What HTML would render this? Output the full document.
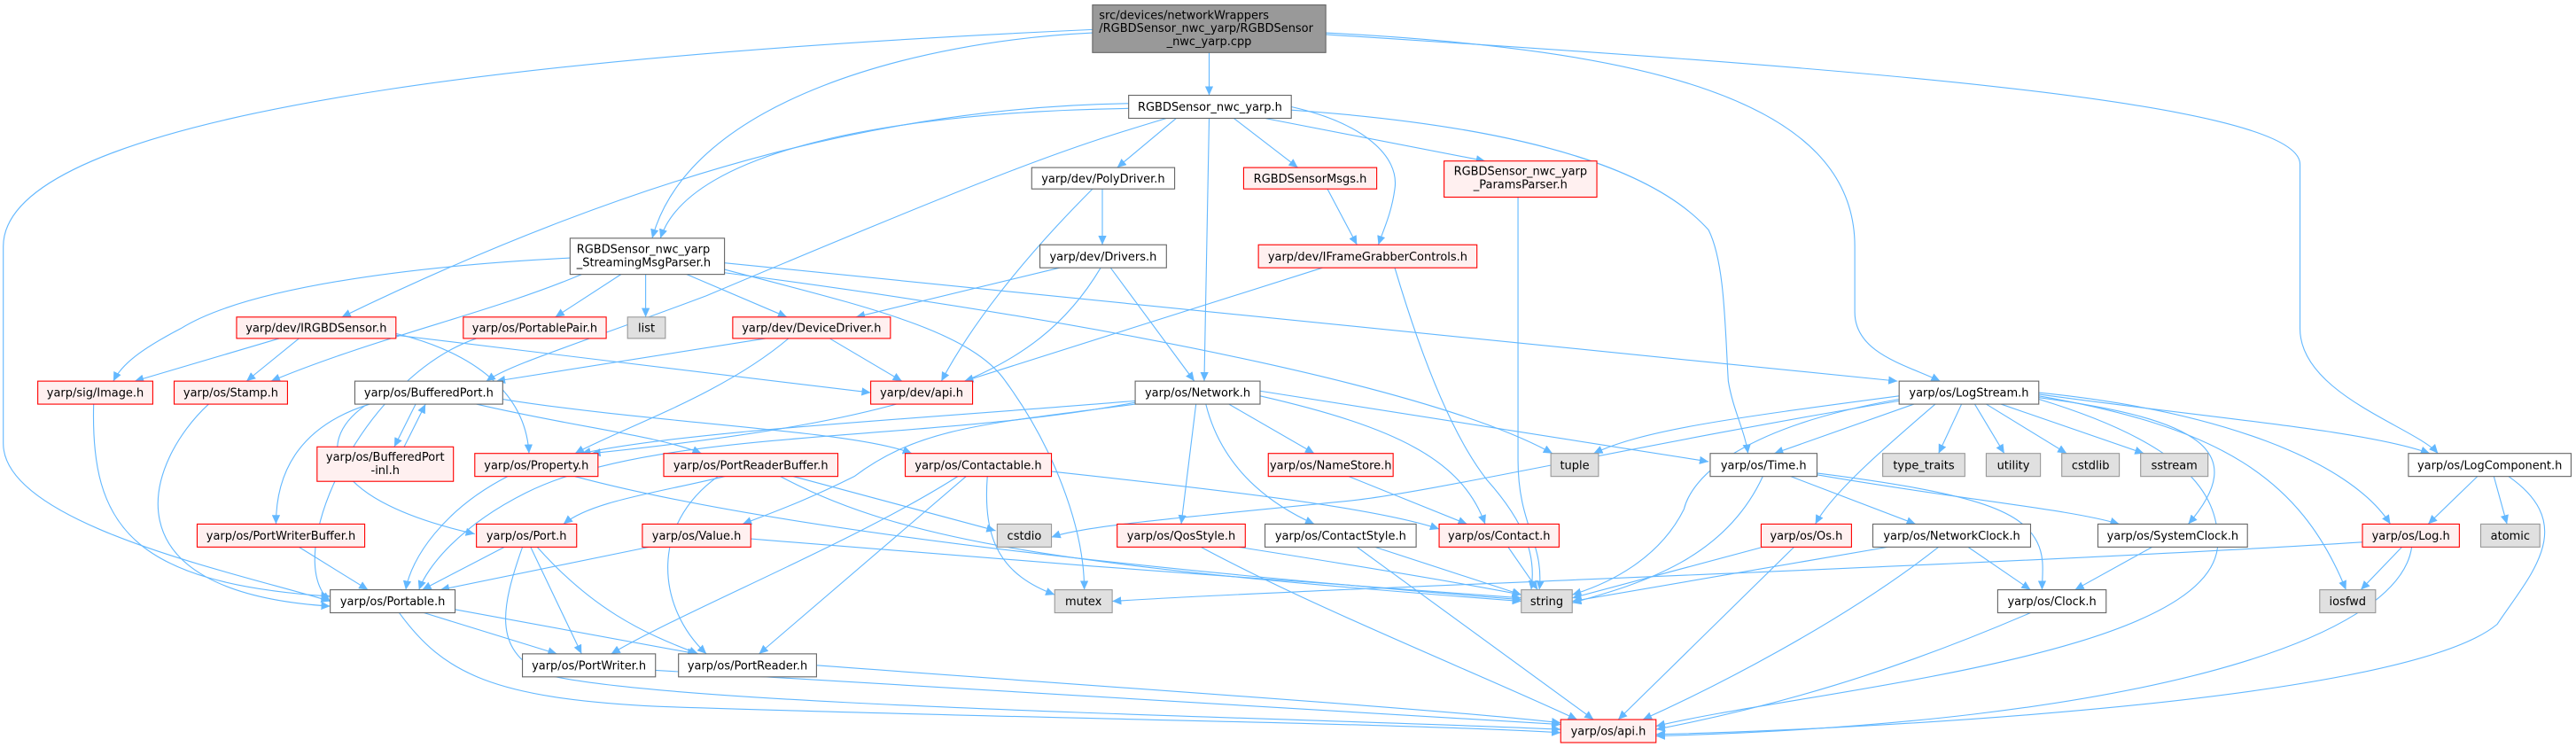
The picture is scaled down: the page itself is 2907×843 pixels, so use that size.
<!DOCTYPE html>
<html><head><meta charset="utf-8"><style>
html,body{margin:0;padding:0;background:#fff;}
svg{display:block;}
text{font-family:"DejaVu Sans","Liberation Sans",sans-serif;font-size:7px;fill:#000;}
.e{fill:none;stroke:#63b8ff;stroke-width:0.6;}
.w{fill:#fff;stroke:#666;stroke-width:0.6;}
.r{fill:#fff0f0;stroke:#ff0000;stroke-width:0.6;}
.g{fill:#e0e0e0;stroke:#999;stroke-width:0.6;}
.k{fill:#999;stroke:#666;stroke-width:0.6;}
</style></head><body>
<svg width="2907" height="843" viewBox="0 0 1568 454.7" preserveAspectRatio="none" xmlns="http://www.w3.org/2000/svg">
<defs><marker id="a" markerUnits="userSpaceOnUse" markerWidth="6" markerHeight="5" refX="5.5" refY="2.5" orient="auto"><path d="M0,0 L5.5,2.5 L0,5 z" fill="#63b8ff"/></marker></defs>
<g class="edges" marker-end="url(#a)">
<path class="e" marker-end="url(#a)" d="M736 32 L736 58"/>
<path class="e" marker-end="url(#a)" d="M665 20 C560 25 420 60 397 145"/>
<path class="e" marker-end="url(#a)" d="M665 18 C400 30 2 60 2 150 L2 270 C2 320 150 350 201 366"/>
<path class="e" marker-end="url(#a)" d="M807 20 C1000 30 1129 60 1129 150 L1129 190 C1129 215 1160 222 1181 232"/>
<path class="e" marker-end="url(#a)" d="M807 21 C1100 40 1400 60 1400 100 L1400 200 C1400 240 1470 260 1484 276"/>
<path class="e" marker-end="url(#a)" d="M687 66 C550 68 420 90 402 145"/>
<path class="e" marker-end="url(#a)" d="M687 63 C550 65 400 100 208 193"/>
<path class="e" marker-end="url(#a)" d="M710 72 C650 90 620 100 430 180 C350 210 310 222 296 232"/>
<path class="e" marker-end="url(#a)" d="M716 72 L680 102"/>
<path class="e" marker-end="url(#a)" d="M751 72 L790 102"/>
<path class="e" marker-end="url(#a)" d="M736 72 L733 232"/>
<path class="e" marker-end="url(#a)" d="M770 72 L904 98"/>
<path class="e" marker-end="url(#a)" d="M786 65 C830 75 852 95 849 115 C847 130 842 140 839 149"/>
<path class="e" marker-end="url(#a)" d="M786 67 C900 75 1000 95 1040 140 C1050 160 1050 200 1052 232 C1055 250 1062 262 1064 276"/>
<path class="e" marker-end="url(#a)" d="M671 115 L671 149"/>
<path class="e" marker-end="url(#a)" d="M665 115 C620 160 590 200 573 232"/>
<path class="e" marker-end="url(#a)" d="M808 115 L826 149"/>
<path class="e" marker-end="url(#a)" d="M924 120 L924 280 C924 320 940 330 937 359"/>
<path class="e" marker-end="url(#a)" d="M805 163 L587 232"/>
<path class="e" marker-end="url(#a)" d="M849 163 C860 200 880 260 905 292 C930 320 935 340 932 359"/>
<path class="e" marker-end="url(#a)" d="M347 157 C250 162 150 175 110 200 C85 213 74 222 69 232"/>
<path class="e" marker-end="url(#a)" d="M354 167 C300 190 230 205 165 232"/>
<path class="e" marker-end="url(#a)" d="M378 167 L338 193"/>
<path class="e" marker-end="url(#a)" d="M393 167 L393 193"/>
<path class="e" marker-end="url(#a)" d="M418 167 L479 193"/>
<path class="e" marker-end="url(#a)" d="M441 160 L1155 232"/>
<path class="e" marker-end="url(#a)" d="M441 164 C520 185 590 200 612 232 C640 270 660 320 660 359"/>
<path class="e" marker-end="url(#a)" d="M441 166 C700 200 880 240 945 276"/>
<path class="e" marker-end="url(#a)" d="M645 163 L521 193"/>
<path class="e" marker-end="url(#a)" d="M676 163 L727 232"/>
<path class="e" marker-end="url(#a)" d="M670 163 C630 230 560 255 360 276"/>
<path class="e" marker-end="url(#a)" d="M170 206 L82 232"/>
<path class="e" marker-end="url(#a)" d="M182 206 L150 232"/>
<path class="e" marker-end="url(#a)" d="M241 203 C290 215 320 240 322 276"/>
<path class="e" marker-end="url(#a)" d="M241 204 L530 239"/>
<path class="e" marker-end="url(#a)" d="M290 206 C220 230 170 340 201 366"/>
<path class="e" marker-end="url(#a)" d="M505 206 L549 232"/>
<path class="e" marker-end="url(#a)" d="M480 206 C440 240 380 260 350 276"/>
<path class="e" marker-end="url(#a)" d="M466 206 L302 232"/>
<path class="e" marker-end="url(#a)" d="M57 246 C55 320 80 355 201 363"/>
<path class="e" marker-end="url(#a)" d="M127 246 C90 280 60 360 201 369"/>
<path class="e" marker-end="url(#a)" d="M253 246 L240 272"/>
<path class="e" marker-end="url(#a)" d="M246 272 L259 246"/>
<path class="e" marker-end="url(#a)" d="M225 246 C180 260 168 290 168 319"/>
<path class="e" marker-end="url(#a)" d="M222 247 C190 270 200 305 289 325"/>
<path class="e" marker-end="url(#a)" d="M290 246 C350 260 400 265 427 276"/>
<path class="e" marker-end="url(#a)" d="M306 243 C400 258 520 262 555 276"/>
<path class="e" marker-end="url(#a)" d="M691 244 C560 255 420 262 354 276"/>
<path class="e" marker-end="url(#a)" d="M691 245 C560 270 400 260 320 300 C280 320 260 345 255 359"/>
<path class="e" marker-end="url(#a)" d="M691 246 C600 258 560 260 520 290 C490 305 470 312 452 319"/>
<path class="e" marker-end="url(#a)" d="M748 246 L800 276"/>
<path class="e" marker-end="url(#a)" d="M728 246 L719 319"/>
<path class="e" marker-end="url(#a)" d="M734 246 C745 290 780 310 800 319"/>
<path class="e" marker-end="url(#a)" d="M767 241 C850 260 890 280 904 319"/>
<path class="e" marker-end="url(#a)" d="M767 238 L1040 281"/>
<path class="e" marker-end="url(#a)" d="M1156 241 C1050 255 1000 262 970 276"/>
<path class="e" marker-end="url(#a)" d="M1165 246 L1080 276"/>
<path class="e" marker-end="url(#a)" d="M1156 243 C1060 260 1030 290 1025 310 C1010 340 980 355 957 362"/>
<path class="e" marker-end="url(#a)" d="M1156 244 C1000 270 870 300 820 305 C720 315 660 320 640 327"/>
<path class="e" marker-end="url(#a)" d="M1178 246 C1150 270 1115 300 1105 319"/>
<path class="e" marker-end="url(#a)" d="M1194 246 L1180 276"/>
<path class="e" marker-end="url(#a)" d="M1202 246 L1220 276"/>
<path class="e" marker-end="url(#a)" d="M1209 246 L1258 276"/>
<path class="e" marker-end="url(#a)" d="M1218 246 L1305 276"/>
<path class="e" marker-end="url(#a)" d="M1241 240 C1350 255 1440 262 1479 276"/>
<path class="e" marker-end="url(#a)" d="M1241 239 C1350 250 1430 280 1455 319"/>
<path class="e" marker-end="url(#a)" d="M1241 242 C1340 255 1370 275 1332 319"/>
<path class="e" marker-end="url(#a)" d="M1241 241 C1350 260 1400 290 1428 359"/>
<path class="e" marker-end="url(#a)" d="M1241 243 C1330 270 1350 300 1350 330 C1350 400 1100 420 1008 442"/>
<path class="e" marker-end="url(#a)" d="M1438 330 C1200 345 800 358 677 366"/>
<path class="e" marker-end="url(#a)" d="M1073 290 C1050 340 1000 355 957 367"/>
<path class="e" marker-end="url(#a)" d="M1090 290 L1166 319"/>
<path class="e" marker-end="url(#a)" d="M1106 289 C1200 305 1260 310 1290 319"/>
<path class="e" marker-end="url(#a)" d="M1106 288 C1200 300 1230 310 1240 330 C1245 340 1243 350 1243 359"/>
<path class="e" marker-end="url(#a)" d="M821 290 L893 319"/>
<path class="e" marker-end="url(#a)" d="M583 290 C520 330 420 370 372 398"/>
<path class="e" marker-end="url(#a)" d="M588 290 L462 398"/>
<path class="e" marker-end="url(#a)" d="M601 290 C598 330 610 350 642 362"/>
<path class="e" marker-end="url(#a)" d="M640 287 C760 300 840 310 876 322"/>
<path class="e" marker-end="url(#a)" d="M441 290 C400 300 360 305 343 319"/>
<path class="e" marker-end="url(#a)" d="M483 290 L606 323"/>
<path class="e" marker-end="url(#a)" d="M475 290 C550 330 650 345 926 366"/>
<path class="e" marker-end="url(#a)" d="M437 290 C395 320 400 370 430 398"/>
<path class="e" marker-end="url(#a)" d="M309 290 C270 310 250 340 247 359"/>
<path class="e" marker-end="url(#a)" d="M350 290 C500 330 800 355 926 365"/>
<path class="e" marker-end="url(#a)" d="M182 333 L224 359"/>
<path class="e" marker-end="url(#a)" d="M307 333 L257 359"/>
<path class="e" marker-end="url(#a)" d="M323 333 L354 398"/>
<path class="e" marker-end="url(#a)" d="M327 333 C360 370 390 385 425 398"/>
<path class="e" marker-end="url(#a)" d="M318 333 C305 370 300 395 330 410 C400 430 800 437 950 444"/>
<path class="e" marker-end="url(#a)" d="M395 333 L268 359"/>
<path class="e" marker-end="url(#a)" d="M457 328 C600 340 800 355 926 364"/>
<path class="e" marker-end="url(#a)" d="M754 333 C830 345 890 355 926 362"/>
<path class="e" marker-end="url(#a)" d="M731 333 C800 370 900 410 960 438"/>
<path class="e" marker-end="url(#a)" d="M837 333 L926 362"/>
<path class="e" marker-end="url(#a)" d="M826 333 L970 438"/>
<path class="e" marker-end="url(#a)" d="M918 333 L936 359"/>
<path class="e" marker-end="url(#a)" d="M1073 333 L957 364"/>
<path class="e" marker-end="url(#a)" d="M1092 333 L985 438"/>
<path class="e" marker-end="url(#a)" d="M1149 333 L957 366"/>
<path class="e" marker-end="url(#a)" d="M1198 333 L1236 359"/>
<path class="e" marker-end="url(#a)" d="M1180 333 C1120 380 1040 420 1000 438"/>
<path class="e" marker-end="url(#a)" d="M1310 333 L1263 359"/>
<path class="e" marker-end="url(#a)" d="M1236 373 C1150 410 1080 430 1008 444"/>
<path class="e" marker-end="url(#a)" d="M1508 290 L1478 319"/>
<path class="e" marker-end="url(#a)" d="M1518 290 L1526 319"/>
<path class="e" marker-end="url(#a)" d="M1527 290 C1570 320 1540 350 1520 380 C1460 430 1100 445 1008 447"/>
<path class="e" marker-end="url(#a)" d="M1462 333 L1437 359"/>
<path class="e" marker-end="url(#a)" d="M1468 333 C1460 390 1300 440 1008 448"/>
<path class="e" marker-end="url(#a)" d="M258 373 L339 398"/>
<path class="e" marker-end="url(#a)" d="M277 371 L424 398"/>
<path class="e" marker-end="url(#a)" d="M243 373 C270 410 300 425 400 430 C600 437 850 440 950 446"/>
<path class="e" marker-end="url(#a)" d="M399 408 C600 420 850 435 950 441"/>
<path class="e" marker-end="url(#a)" d="M497 405 C700 420 880 432 950 440"/>
</g>
<g>
<rect class="k" x="665" y="3" width="142" height="29"/>
<text x="669" y="11.5">src/devices/networkWrappers</text>
<text x="669" y="19.5">/RGBDSensor_nwc_yarp/RGBDSensor</text>
<text x="736" y="27.5" text-anchor="middle">_nwc_yarp.cpp</text>

<rect class="w" x="687" y="58" width="99" height="14"/><text x="736.5" y="67.5" text-anchor="middle">RGBDSensor_nwc_yarp.h</text>
<rect class="w" x="628" y="102" width="87" height="13"/><text x="671.5" y="111" text-anchor="middle">yarp/dev/PolyDriver.h</text>
<rect class="r" x="757" y="102" width="81" height="13"/><text x="797.5" y="111" text-anchor="middle">RGBDSensorMsgs.h</text>
<rect class="r" x="879" y="98" width="93" height="22"/><text x="925.5" y="106.5" text-anchor="middle">RGBDSensor_nwc_yarp</text><text x="925.5" y="114.5" text-anchor="middle">_ParamsParser.h</text>
<rect class="w" x="347" y="145" width="94" height="22"/><text x="351" y="154">RGBDSensor_nwc_yarp</text><text x="351" y="162">_StreamingMsgParser.h</text>
<rect class="w" x="633" y="149" width="77" height="14"/><text x="671.5" y="158.5" text-anchor="middle">yarp/dev/Drivers.h</text>
<rect class="r" x="766" y="149" width="133" height="14"/><text x="832.5" y="158.5" text-anchor="middle">yarp/dev/IFrameGrabberControls.h</text>
<rect class="r" x="144" y="193" width="97" height="13"/><text x="192.5" y="202" text-anchor="middle">yarp/dev/IRGBDSensor.h</text>
<rect class="r" x="282" y="193" width="87" height="13"/><text x="325.5" y="202" text-anchor="middle">yarp/os/PortablePair.h</text>
<rect class="g" x="382" y="193" width="23" height="13"/><text x="393.5" y="202" text-anchor="middle">list</text>
<rect class="r" x="446" y="193" width="96" height="13"/><text x="494" y="202" text-anchor="middle">yarp/dev/DeviceDriver.h</text>
<rect class="r" x="23" y="232" width="70" height="14"/><text x="58" y="241.5" text-anchor="middle">yarp/sig/Image.h</text>
<rect class="r" x="106" y="232" width="69" height="14"/><text x="140.5" y="241.5" text-anchor="middle">yarp/os/Stamp.h</text>
<rect class="w" x="216" y="232" width="90" height="14"/><text x="261" y="241.5" text-anchor="middle">yarp/os/BufferedPort.h</text>
<rect class="r" x="530" y="232" width="62" height="14"/><text x="561" y="241.5" text-anchor="middle">yarp/dev/api.h</text>
<rect class="w" x="691" y="232" width="76" height="14"/><text x="729" y="241.5" text-anchor="middle">yarp/os/Network.h</text>
<rect class="w" x="1156" y="232" width="85" height="14"/><text x="1198.5" y="241.5" text-anchor="middle">yarp/os/LogStream.h</text>
<rect class="r" x="193" y="272" width="83" height="21"/><text x="234.5" y="280.5" text-anchor="middle">yarp/os/BufferedPort</text><text x="234.5" y="288.5" text-anchor="middle">-inl.h</text>
<rect class="r" x="289" y="276" width="75" height="14"/><text x="326.5" y="285.5" text-anchor="middle">yarp/os/Property.h</text>
<rect class="r" x="404" y="276" width="106" height="14"/><text x="457" y="285.5" text-anchor="middle">yarp/os/PortReaderBuffer.h</text>
<rect class="r" x="551" y="276" width="89" height="14"/><text x="595.5" y="285.5" text-anchor="middle">yarp/os/Contactable.h</text>
<rect class="r" x="772" y="276" width="76" height="14"/><text x="810" y="285.5" text-anchor="middle">yarp/os/NameStore.h</text>
<rect class="g" x="944" y="276" width="29" height="14"/><text x="958.5" y="285.5" text-anchor="middle">tuple</text>
<rect class="w" x="1041" y="276" width="65" height="14"/><text x="1073.5" y="285.5" text-anchor="middle">yarp/os/Time.h</text>
<rect class="g" x="1146" y="276" width="50" height="14"/><text x="1171" y="285.5" text-anchor="middle">type_traits</text>
<rect class="g" x="1209" y="276" width="33" height="14"/><text x="1225.5" y="285.5" text-anchor="middle">utility</text>
<rect class="g" x="1255" y="276" width="35" height="14"/><text x="1272.5" y="285.5" text-anchor="middle">cstdlib</text>
<rect class="g" x="1303" y="276" width="41" height="14"/><text x="1323.5" y="285.5" text-anchor="middle">sstream</text>
<rect class="w" x="1466" y="276" width="99" height="14"/><text x="1515.5" y="285.5" text-anchor="middle">yarp/os/LogComponent.h</text>
<rect class="r" x="120" y="319" width="102" height="14"/><text x="171" y="328.5" text-anchor="middle">yarp/os/PortWriterBuffer.h</text>
<rect class="r" x="290" y="319" width="61" height="14"/><text x="320.5" y="328.5" text-anchor="middle">yarp/os/Port.h</text>
<rect class="r" x="391" y="319" width="66" height="14"/><text x="424" y="328.5" text-anchor="middle">yarp/os/Value.h</text>
<rect class="g" x="607" y="319" width="33" height="14"/><text x="623.5" y="328.5" text-anchor="middle">cstdio</text>
<rect class="r" x="680" y="319" width="78" height="14"/><text x="719" y="328.5" text-anchor="middle">yarp/os/QosStyle.h</text>
<rect class="w" x="770" y="319" width="92" height="14"/><text x="816" y="328.5" text-anchor="middle">yarp/os/ContactStyle.h</text>
<rect class="r" x="876" y="319" width="73" height="14"/><text x="912.5" y="328.5" text-anchor="middle">yarp/os/Contact.h</text>
<rect class="r" x="1072" y="319" width="55" height="14"/><text x="1099.5" y="328.5" text-anchor="middle">yarp/os/Os.h</text>
<rect class="w" x="1140" y="319" width="96" height="14"/><text x="1188" y="328.5" text-anchor="middle">yarp/os/NetworkClock.h</text>
<rect class="w" x="1277" y="319" width="91" height="14"/><text x="1322.5" y="328.5" text-anchor="middle">yarp/os/SystemClock.h</text>
<rect class="r" x="1438" y="319" width="59" height="14"/><text x="1467.5" y="328.5" text-anchor="middle">yarp/os/Log.h</text>
<rect class="g" x="1510" y="319" width="36" height="14"/><text x="1528" y="328.5" text-anchor="middle">atomic</text>
<rect class="w" x="201" y="359" width="76" height="14"/><text x="239" y="368.5" text-anchor="middle">yarp/os/Portable.h</text>
<rect class="g" x="642" y="359" width="35" height="14"/><text x="659.5" y="368.5" text-anchor="middle">mutex</text>
<rect class="g" x="926" y="359" width="31" height="14"/><text x="941.5" y="368.5" text-anchor="middle">string</text>
<rect class="w" x="1216" y="359" width="66" height="14"/><text x="1249" y="368.5" text-anchor="middle">yarp/os/Clock.h</text>
<rect class="g" x="1412" y="359" width="34" height="14"/><text x="1429" y="368.5" text-anchor="middle">iosfwd</text>
<rect class="w" x="318" y="398" width="81" height="14"/><text x="358.5" y="407.5" text-anchor="middle">yarp/os/PortWriter.h</text>
<rect class="w" x="413" y="398" width="84" height="14"/><text x="455" y="407.5" text-anchor="middle">yarp/os/PortReader.h</text>
<rect class="r" x="950" y="438" width="58" height="14"/><text x="979" y="447.5" text-anchor="middle">yarp/os/api.h</text>
</g>
</svg>
</body></html>
